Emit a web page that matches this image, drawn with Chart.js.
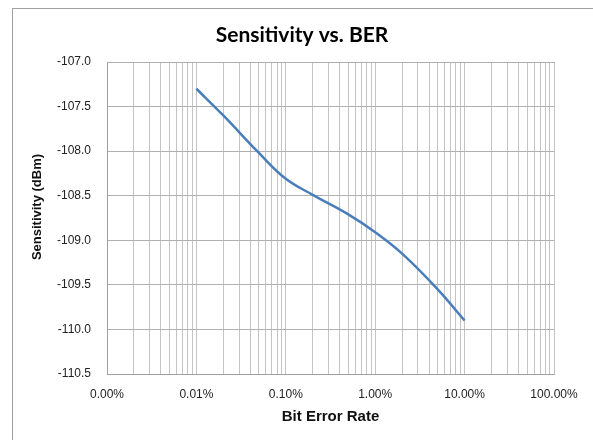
<!DOCTYPE html>
<html>
<head>
<meta charset="utf-8">
<script src="https://cdn.jsdelivr.net/npm/chart.js@4/dist/chart.umd.min.js"></script>
<style>
  body { margin: 0; background: #fff; }
  canvas { display: block; }
</style>
</head>
<body>
<canvas id="chart" width="593" height="440"></canvas>
<script>
// Data
const berValues = [0.0001, 0.0002, 0.0005, 0.001, 0.002, 0.005, 0.01, 0.02, 0.05, 0.1];
const sensitivity = [-107.3, -107.6, -108.02, -108.31, -108.49, -108.71, -108.91, -109.15, -109.55, -109.9];

// Axis ranges and tick labels
const xDecades = [0.00001, 0.0001, 0.001, 0.01, 0.1];
const xMax = 1;
const yMin = -110.5;
const yMax = -107.0;
const yStep = 0.5;
const chartTitle = 'Sensitivity vs. BER';
const xTitle = 'Bit Error Rate';
const yTitle = 'Sensitivity (dBm)';

// Ticks 1..9 in every decade, plus the last one
const xTicks = [];
xDecades.forEach(d => {
    for (let i = 1; i <= 9; i++) xTicks.push(d * i);
});
xTicks.push(xMax);

function isDecade(v) {
    const l = Math.log10(v);
    return Math.abs(l - Math.round(l)) < 1e-9;
}

// Outer frame, chart title and y title, drawn by hand so they sit where Excel put them
const framePlugin = {
    id: 'frame',
    beforeDraw(chart) {
        const ctx = chart.ctx;
        ctx.save();
        ctx.fillStyle = '#fff';
        ctx.fillRect(0, 0, chart.width, chart.height);
        ctx.strokeStyle = '#a0a0a0';
        ctx.lineWidth = 1;
        ctx.strokeRect(12.5, 8.5, 700, 600);
        ctx.restore();
    },
    afterDraw(chart) {
        const ctx = chart.ctx;
        ctx.save();
        ctx.fillStyle = '#000';
        ctx.font = 'bold 21px Lato, "Liberation Sans", sans-serif';
        ctx.textAlign = 'center';
        ctx.textBaseline = 'alphabetic';
        ctx.fillText(chartTitle, 302, 42);

        ctx.translate(37.5, 207);
        ctx.rotate(-Math.PI / 2);
        ctx.fillStyle = '#111';
        ctx.font = 'bold 13px "Liberation Sans", Arial, sans-serif';
        ctx.textBaseline = 'middle';
        ctx.fillText(yTitle, 0, 0);
        ctx.restore();
    }
};

const tickFont = { family: '"Liberation Sans", Arial, sans-serif', size: 12 };

new Chart(document.getElementById('chart').getContext('2d'), {
    type: 'line',
    data: {
        datasets: [{
            data: berValues.map((b, i) => ({ x: b, y: sensitivity[i] })),
            borderColor: '#4a7ebb',
            borderWidth: 2.5,
            pointRadius: 0,
            fill: false,
            tension: 0.4
        }]
    },
    options: {
        responsive: false,
        animation: false,
        devicePixelRatio: 1,
        layout: { padding: { top: 62, left: 12, right: 39, bottom: 0 } },
        plugins: {
            legend: { display: false },
            title: { display: false },
            tooltip: { enabled: false }
        },
        scales: {
            x: {
                type: 'logarithmic',
                min: xDecades[0],
                max: xMax,
                afterBuildTicks(scale) {
                    scale.ticks = xTicks.map(v => ({ value: v, major: isDecade(v) }));
                },
                afterFit(scale) { scale.height = 66; },
                grid: { color: '#c4c4c4', drawTicks: false },
                border: { display: true, color: '#a0a0a0' },
                ticks: {
                    autoSkip: false,
                    maxRotation: 0,
                    padding: 13,
                    color: '#222',
                    font: tickFont,
                    callback: v => isDecade(v) ? (v * 100).toFixed(2) + '%' : ''
                },
                title: {
                    display: true,
                    text: xTitle,
                    color: '#111',
                    font: { family: '"Liberation Sans", Arial, sans-serif', size: 15, weight: 'bold' },
                    padding: { top: 14, bottom: 14 }
                }
            },
            y: {
                min: yMin,
                max: yMax,
                afterFit(scale) { scale.width = 95; },
                grid: { color: '#b0b0b0', drawTicks: false },
                border: { display: true, color: '#a0a0a0' },
                ticks: {
                    stepSize: yStep,
                    padding: 16,
                    color: '#222',
                    font: tickFont,
                    callback: v => v.toFixed(1)
                }
            }
        }
    },
    plugins: [framePlugin]
});
</script>
</body>
</html>
